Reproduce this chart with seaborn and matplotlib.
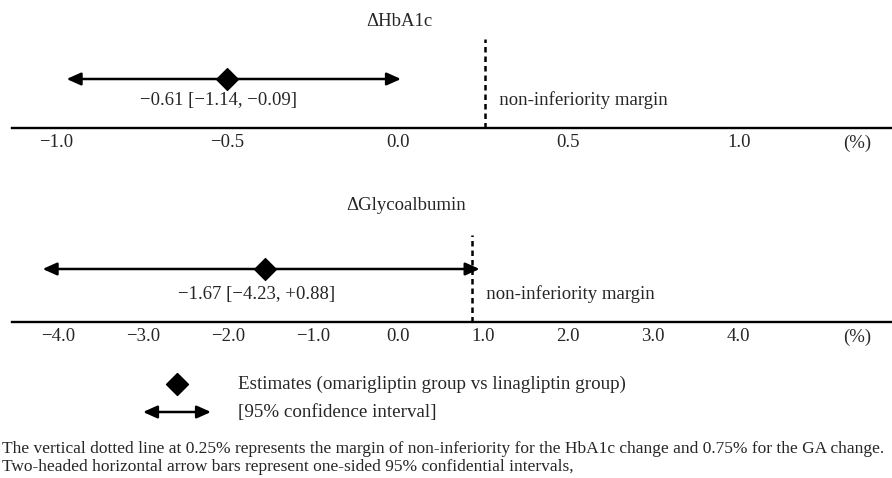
# 非劣性檢定結果圖：ΔHbA1c 與 ΔGlycoalbumin 的估計值與 95% 信賴區間

import matplotlib
matplotlib.use("Agg")
import matplotlib.pyplot as plt
import matplotlib.transforms as mtransforms
import seaborn as sns
import pandas as pd

# 資料（位置依圖上所畫讀取，文字標註照原圖）
panels = ["ΔHbA1c", "ΔGlycoalbumin"]
estimates = [-0.50, -1.57]
ci_low = [-0.97, -4.18]
ci_high = [0.01, 0.96]
margins = [0.255, 0.87]
est_labels = ["−0.61 [−1.14, −0.09]", "−1.67 [−4.23, +0.88]"]

ticks_hba1c = [-1.0, -0.5, 0.0, 0.5, 1.0]
tick_labels_hba1c = ["−1.0", "−0.5", "0.0", "0.5", "1.0"]
ticks_ga = [-4.0, -3.0, -2.0, -1.0, 0.0, 1.0, 2.0, 3.0, 4.0]
tick_labels_ga = ["−4.0", "−3.0", "−2.0", "−1.0", "0.0", "1.0", "2.0", "3.0", "4.0"]

legend_texts = ["Estimates (omarigliptin group vs linagliptin group)",
                "[95% confidence interval]"]
caption = ["The vertical dotted line at 0.25% represents the margin of non-inferiority "
           "for the HbA1c change and 0.75% for the GA change.",
           "Two-headed horizontal arrow bars represent one-sided 95% confidential intervals,"]

df = pd.DataFrame({"panel": panels, "est": estimates, "low": ci_low,
                   "high": ci_high, "margin": margins, "label": est_labels})

sns.set_theme(style="white")
plt.rcParams["font.family"] = ["Liberation Serif", "DejaVu Serif"]
FS = 13.5
ARROW = dict(arrowstyle="<|-|>,head_length=0.85,head_width=0.38",
             lw=1.8, color="black", shrinkA=0, shrinkB=0, mutation_scale=10)

W, H = 892, 478
fig = plt.figure(figsize=(W / 100, H / 100), dpi=100)

# 每個面板：上緣px, 軸線px, xlim, ticks, labels, 標題x, 標題y, 箭頭y, 虛線高
layout = [
    (0, 128, (-1.13, 1.449), ticks_hba1c, tick_labels_hba1c, 0.440, 106, 49, 89),
    (190, 322, (-4.54, 5.81), ticks_ga, tick_labels_ga, 0.448, 117, 53, 87),
]

for i, (top, base, xlim, ticks, labels, tx, ty, arrow_y, dash_h) in enumerate(layout):
    h = base - top
    ax = fig.add_axes([12 / W, 1 - base / H, (W - 12) / W, h / H])
    ax.set_xlim(*xlim)
    ax.set_ylim(0, h)
    ax.patch.set_alpha(0)
    for s in ["top", "left", "right"]:
        ax.spines[s].set_visible(False)
    ax.spines["bottom"].set_linewidth(1.7)
    ax.spines["bottom"].set_color("black")
    ax.set_yticks([])
    ax.set_xticks(ticks)
    ax.set_xticklabels(labels, fontsize=FS)
    ax.tick_params(axis="x", length=0, pad=4)

    trans = mtransforms.blended_transform_factory(ax.transAxes, ax.transData)
    ax.text(0.961, -15, "(%)", transform=trans, ha="center", va="center", fontsize=FS)

    row = df.iloc[i]
    # 標題
    ax.text(tx, ty, row["panel"], transform=trans, ha="center", va="center", fontsize=FS)

    # 非劣性界線
    ax.plot([row["margin"], row["margin"]], [0, dash_h],
            color="black", lw=1.8, linestyle=(0, (2.2, 1.6)))
    ax.text(row["margin"], 28, "   non-inferiority margin",
            ha="left", va="center", fontsize=FS)

    # 信賴區間箭頭與估計值
    ax.annotate("", xy=(row["high"], arrow_y), xytext=(row["low"], arrow_y),
                arrowprops=ARROW)
    sns.scatterplot(x=[row["est"]], y=[arrow_y], marker="D", s=125,
                    color="black", edgecolor="black", ax=ax, legend=False, zorder=5)
    ax.annotate(row["label"], xy=(row["est"], 28), xytext=(-6, 0),
                textcoords="offset points", ha="center", va="center", fontsize=FS)

# 圖例與說明文字
axl = fig.add_axes([0, 0, 1, 1], zorder=-1)
axl.set_xlim(0, W)
axl.set_ylim(H, 0)
axl.axis("off")
axl.scatter([177], [384], marker="D", s=125, color="black")
axl.annotate("", xy=(211, 412), xytext=(143, 412), arrowprops=ARROW)
axl.text(238, 384, legend_texts[0], ha="left", va="center", fontsize=13.7)
axl.text(238, 412, legend_texts[1], ha="left", va="center", fontsize=13.7)
axl.text(2, 449, caption[0], ha="left", va="center", fontsize=12.5)
axl.text(2, 467, caption[1], ha="left", va="center", fontsize=12.5)

fig.savefig("out.png", dpi=100)
